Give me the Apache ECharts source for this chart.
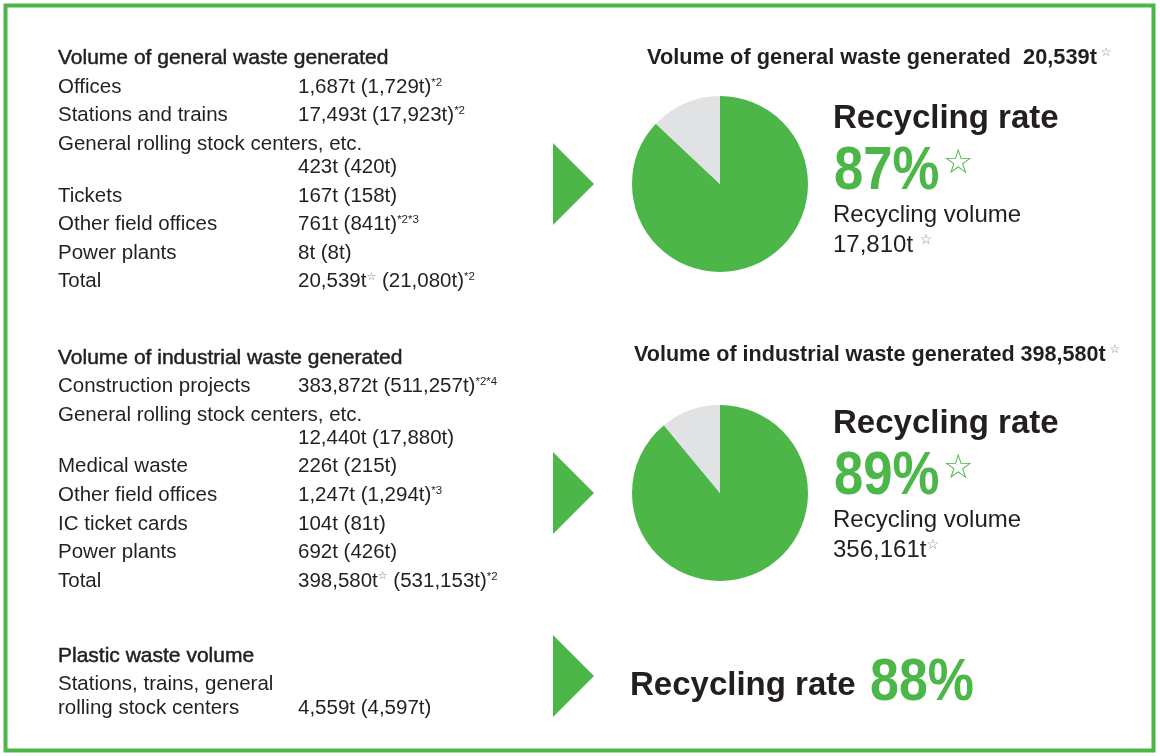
<!DOCTYPE html>
<html lang="en">
<head>
<meta charset="UTF-8">
<title>Waste recycling</title>
<style>
  html, body{margin:0; padding:0; background:#fff}
  #main{width:1160px; height:756px}
</style>
<script src="https://cdn.jsdelivr.net/npm/echarts@6/dist/echarts.min.js"></script>
</head>
<body>
<div id="main"></div>
<script>
// general waste (this year / previous year, tonnes)
const generalLabels = ['Offices', 'Stations and trains', 'General rolling stock centers, etc.', 'Tickets', 'Other field offices', 'Power plants', 'Total'];
const generalNow = [1687, 17493, 423, 167, 761, 8, 20539];
const generalPrev = [1729, 17923, 420, 158, 841, 8, 21080];
const generalNotes = ['*2', '*2', '', '', '*2*3', '', '*2'];

// industrial waste
const industrialLabels = ['Construction projects', 'General rolling stock centers, etc.', 'Medical waste', 'Other field offices', 'IC ticket cards', 'Power plants', 'Total'];
const industrialNow = [383872, 12440, 226, 1247, 104, 692, 398580];
const industrialPrev = [511257, 17880, 215, 1294, 81, 426, 531153];
const industrialNotes = ['*2*4', '', '', '*3', '', '', '*2'];

// plastic waste
const plasticLabels = ['Stations, trains, general', 'rolling stock centers'];
const plasticNow = [4559];
const plasticPrev = [4597];

// recycling
const rates = [87, 89, 88];
const recycledVolume = [17810, 356161];

const GREEN = '#4cb748', GRAY = '#e1e2e4', INK = '#231f20';
const FONT = '"Liberation Sans", Arial, Helvetica, sans-serif';
const STARFONT = '"DejaVu Sans", sans-serif';
const fmt = n => n.toLocaleString('en-US');

function text(x, y, str, o) {
  o = o || {};
  return {
    type: 'text', x: x, y: y + 1.5, scaleX: o.sx || 1, silent: true,
    style: {
      text: str, fill: o.color || INK,
      fontSize: o.size || 20.5, fontFamily: o.family || FONT, fontWeight: o.weight || 'normal',
      verticalAlign: 'middle', align: 'left',
      rich: o.rich,
      stroke: o.stroke ? INK : null, lineWidth: o.stroke || 0
    }
  };
}

const valRich = {
  v: {fontSize: 20.5, fontFamily: FONT, fill: INK},
  st: {fontSize: 11, fontFamily: STARFONT, fill: '#8a8a8a', verticalAlign: 'top'},
  sup: {fontSize: 11.5, fontFamily: FONT, fill: INK, verticalAlign: 'top'}
};

function table(title, labels, now, prev, notes, y0) {
  const els = [text(58, y0, title, {size: 21, stroke: 0.5})];
  let y = y0;
  labels.forEach((lab, i) => {
    y += 28.6;
    els.push(text(58, y, lab));
    if (lab.length > 24) y += 23;
    let s = '{v|' + fmt(now[i]) + 't}';
    if (lab === 'Total') s += '{st|☆}';
    s += '{v| (' + fmt(prev[i]) + 't)}';
    if (notes[i]) s += '{sup|' + notes[i] + '}';
    els.push(text(298, y, s, {rich: valRich}));
  });
  return els;
}

function triangle(cy) {
  return {type: 'polygon', silent: true, shape: {points: [[553, cy - 41], [594, cy], [553, cy + 41]]}, style: {fill: GREEN}};
}

const bigRich = {
  n: {fontSize: 24, fontFamily: FONT, fill: INK},
  st: {fontSize: 14, fontFamily: STARFONT, fill: '#8a8a8a', verticalAlign: 'top'},
  hb: {fontSize: 22, fontFamily: FONT, fontWeight: 'bold', fill: INK},
  hs: {fontSize: 12, fontFamily: STARFONT, fill: '#8a8a8a', verticalAlign: 'top'}
};

function rateBlock(yr, rate, vol, volSep) {
  return [
    text(833, yr, 'Recycling rate', {size: 33, weight: 'bold'}),
    text(834, yr + 53, rate + '%', {size: 62, weight: 'bold', color: GREEN, sx: 0.85}),
    text(943, yr + 46, '☆', {size: 34, family: STARFONT, color: GREEN}),
    text(833, yr + 97, 'Recycling volume', {size: 24}),
    text(833, yr + 127, '{n|' + fmt(vol) + 't' + volSep + '}{st|☆}', {rich: bigRich})
  ];
}

const graphics = [
  {type: 'rect', silent: true, shape: {x: 5.5, y: 5.5, width: 1148, height: 745}, style: {fill: null, stroke: GREEN, lineWidth: 4}},
  ...table('Volume of general waste generated', generalLabels, generalNow, generalPrev, generalNotes, 57),
  ...table('Volume of industrial waste generated', industrialLabels, industrialNow, industrialPrev, industrialNotes, 356.5),
  text(58, 655, 'Plastic waste volume', {size: 21, stroke: 0.5}),
  text(58, 683, plasticLabels[0]),
  text(58, 707, plasticLabels[1]),
  text(298, 707, fmt(plasticNow[0]) + 't (' + fmt(plasticPrev[0]) + 't)'),
  triangle(184), triangle(493), triangle(676),
  text(647, 56, '{hb|Volume of general waste generated  ' + fmt(generalNow[6]) + 't}{hs| ☆}', {rich: bigRich, sx: 0.99}),
  text(634, 353, '{hb|Volume of industrial waste generated ' + fmt(industrialNow[6]) + 't}{hs| ☆}', {rich: bigRich, sx: 0.98}),
  ...rateBlock(117, rates[0], recycledVolume[0], ' '),
  ...rateBlock(422, rates[1], recycledVolume[1], ''),
  text(630, 684, 'Recycling rate', {size: 33, weight: 'bold'}),
  text(870, 682, rates[2] + '%', {size: 59, weight: 'bold', color: GREEN, sx: 0.88})
];

function pie(cy, rate) {
  return {
    type: 'pie', center: [720, cy], radius: 88, startAngle: 90, clockwise: true,
    silent: true, animation: false,
    label: {show: false}, labelLine: {show: false}, emphasis: {disabled: true},
    itemStyle: {borderWidth: 0},
    data: [
      {name: 'Recycled', value: rate, itemStyle: {color: GREEN}},
      {name: 'Other', value: 100 - rate, itemStyle: {color: GRAY}}
    ]
  };
}

const chart = echarts.init(document.getElementById('main'));
chart.setOption({
  animation: false,
  backgroundColor: '#fff',
  graphic: graphics,
  series: [pie(184, rates[0]), pie(493, rates[1])]
});
</script>
</body>
</html>
